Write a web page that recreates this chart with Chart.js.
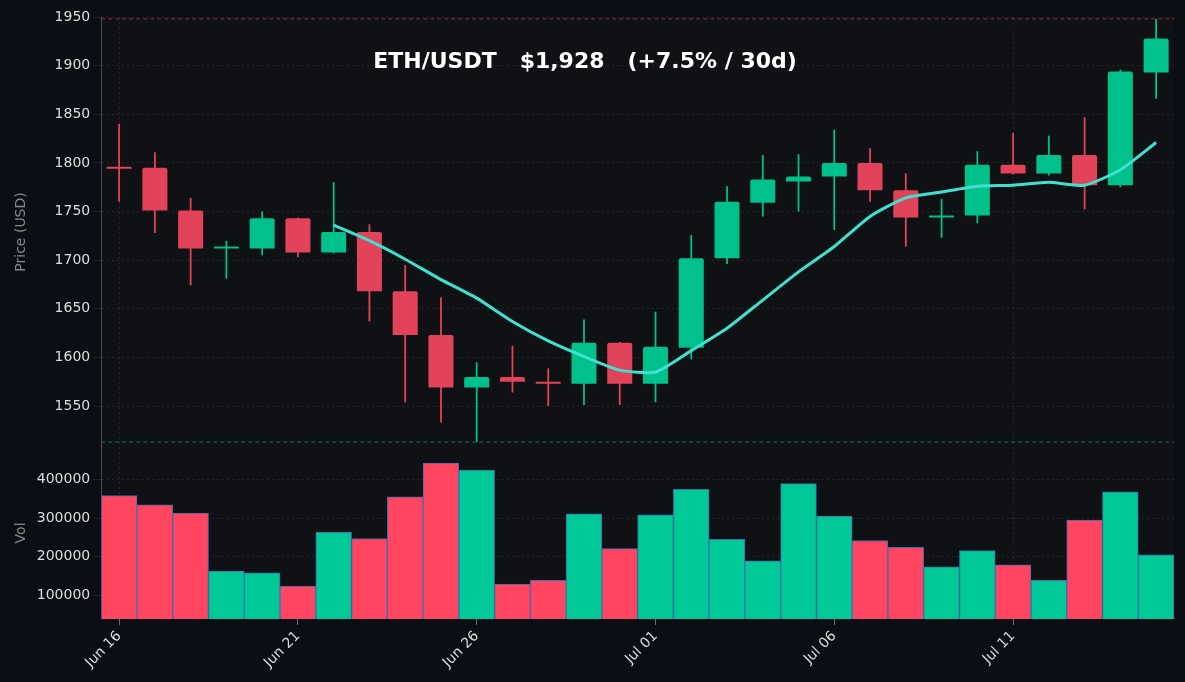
<!DOCTYPE html>
<html>
<head>
<meta charset="utf-8">
<script src="https://cdn.jsdelivr.net/npm/chart.js@4"></script>
<style>
html,body{margin:0;padding:0;background:#0b0e14;}
#wrap{width:1185px;height:682px;}
</style>
</head>
<body>
<div id="wrap"><canvas id="chart"></canvas></div>
<script>
// data
let labels = ["Jun 16","Jun 17","Jun 18","Jun 19","Jun 20","Jun 21","Jun 22","Jun 23","Jun 24","Jun 25","Jun 26","Jun 27","Jun 28","Jun 29","Jun 30",
"Jul 01","Jul 02","Jul 03","Jul 04","Jul 05","Jul 06","Jul 07","Jul 08","Jul 09","Jul 10","Jul 11","Jul 12","Jul 13","Jul 14","Jul 15"];
let opens  = [1796,1795,1751,1712,1712,1743,1708,1729,1668,1623,1569,1580,1575,1573,1615,1573,1610,1702,1759,1781,1786,1800,1772,1744,1746,1798,1789,1808,1777,1893];
let closes = [1794,1751,1712,1713,1743,1708,1729,1668,1623,1569,1580,1575,1573,1615,1573,1611,1702,1760,1783,1786,1800,1772,1744,1746,1798,1789,1808,1777,1894,1928];
let highs  = [1840,1811,1764,1720,1750,1744,1780,1737,1695,1662,1595,1612,1589,1639,1616,1647,1726,1776,1808,1809,1834,1815,1789,1763,1812,1831,1828,1847,1896,1948];
let lows   = [1760,1728,1674,1681,1705,1703,1707,1637,1554,1533,1513,1564,1550,1551,1551,1554,1598,1696,1745,1750,1731,1760,1714,1723,1738,1788,1787,1752,1775,1866];
let ma7    = [null,null,null,null,null,null,1736,1720,1701,1680,1661,1637,1617,1601,1587,1585,1607,1630,1659,1688,1714,1745,1764,1770,1776,1777,1780,1777,1793,1821];
let volumes = [358000,334000,313000,163000,158000,124000,263000,247000,355000,442000,424000,129000,139000,311000,221000,
308000,374000,245000,189000,389000,305000,242000,224000,174000,216000,179000,139000,295000,368000,205000];

const UP = "#00c08b", DOWN = "#e2435a";
const VUP = "#00c896", VDOWN = "#ff4560";

let isUp = closes.map((c,i)=> c >= opens[i]);

let bodies = opens.map((o,i)=>{
  let a = o, b = closes[i];
  if(Math.abs(a-b) < 2){ b = a + (isUp[i] ? 2 : -2); } // keep dojis visible
  return [a,b];
});
let wicks = lows.map((l,i)=>[l,highs[i]]);

const extras = {
  id:"extras",
  afterDatasetsDraw(chart){
    let ctx = chart.ctx, y = chart.scales.y, area = chart.chartArea;
    let top = y.getPixelForValue(Math.max(...highs));
    let bot = y.getPixelForValue(Math.min(...lows));
    ctx.save();
    ctx.setLineDash([4,3]);
    ctx.lineWidth = 1;
    ctx.strokeStyle = "rgba(226,67,90,0.6)";
    ctx.beginPath(); ctx.moveTo(area.left,top); ctx.lineTo(area.right,top); ctx.stroke();
    ctx.strokeStyle = "rgba(0,192,139,0.6)";
    ctx.beginPath(); ctx.moveTo(area.left,bot); ctx.lineTo(area.right,bot); ctx.stroke();
    ctx.setLineDash([]);
    ctx.fillStyle = "#ffffff";
    ctx.font = "bold 22px 'DejaVu Sans'";
    ctx.textAlign = "center";
    ctx.textBaseline = "middle";
    ctx.fillText("ETH/USDT   $1,928   (+7.5% / 30d)", 585, 62);
    ctx.restore();
  },
  beforeDraw(chart){
    let ctx = chart.ctx, a = chart.chartArea;
    ctx.save();
    ctx.fillStyle = "#0f1115";
    ctx.fillRect(a.left,a.top,a.right-a.left,a.bottom-a.top);
    ctx.restore();
  }
};

let gridColor = "rgba(255,255,255,0.09)";
let tickFont = {family:"'DejaVu Sans'", size:14};

new Chart(document.getElementById("chart"),{
  data:{
    labels:labels,
    datasets:[
      {
        type:"line", label:"MA7", data:ma7, yAxisID:"y",
        borderColor:"#40e0d0", borderWidth:3, pointRadius:0, tension:0.2, order:0
      },
      {
        type:"bar", label:"wick", data:wicks, yAxisID:"y",
        backgroundColor:isUp.map(u=>u?UP:DOWN),
        barPercentage:0.05, categoryPercentage:1, grouped:false, order:2
      },
      {
        type:"bar", label:"body", data:bodies, yAxisID:"y",
        backgroundColor:isUp.map(u=>u?UP:DOWN),
        barPercentage:0.7, categoryPercentage:1, grouped:false, borderRadius:2, order:1
      },
      {
        type:"bar", label:"Vol", data:volumes, yAxisID:"yVol",
        backgroundColor:isUp.map(u=>u?VUP:VDOWN),
        borderColor:"#3b6fb0", borderWidth:1,
        barPercentage:1, categoryPercentage:1, grouped:false, order:3
      }
    ]
  },
  options:{
    responsive:true,
    maintainAspectRatio:false,
    animation:false,
    layout:{padding:{top:17,right:11,left:9,bottom:8}},
    plugins:{legend:{display:false}, tooltip:{enabled:false}},
    scales:{
      x:{
        offset:true,
        grid:{
          offset:false,
          color:(c)=> (c.index % 5 === 0) ? gridColor : "transparent",
          tickColor:"rgba(255,255,255,0.4)", tickLength:6
        },
        border:{color:"rgba(255,255,255,0.25)", dash:[2,3]},
        ticks:{
          autoSkip:false, maxRotation:45, minRotation:45, color:"#dddddd",
          font:{family:"'DejaVu Sans'", size:14},
          callback:function(v,i){ return i % 5 === 0 ? labels[i] : null; }
        }
      },
      y:{
        stack:"main", stackWeight:2.5, weight:1, min:1508, max:1950,
        afterBuildTicks:(s)=>{ let t=[]; for(let v=1550; v<=1950; v+=50) t.push({value:v}); s.ticks=t; },
        grid:{color:gridColor}, border:{color:"rgba(255,255,255,0.25)", dash:[2,3]},
        ticks:{color:"#dddddd", font:tickFont, callback:(v)=>String(v)},
        title:{display:true, text:"Price (USD)", color:"#888888", font:tickFont}
      },
      yVol:{
        stack:"main", stackWeight:1, weight:0, min:39000, max:484000,
        afterBuildTicks:(s)=>{ s.ticks=[100000,200000,300000,400000].map(v=>({value:v})); },
        grid:{color:gridColor}, border:{color:"rgba(255,255,255,0.25)", dash:[2,3]},
        ticks:{color:"#dddddd", font:tickFont, callback:(v)=>String(v)},
        title:{display:true, text:"Vol", color:"#888888", font:tickFont}
      }
    }
  },
  plugins:[extras]
});
</script>
</body>
</html>
